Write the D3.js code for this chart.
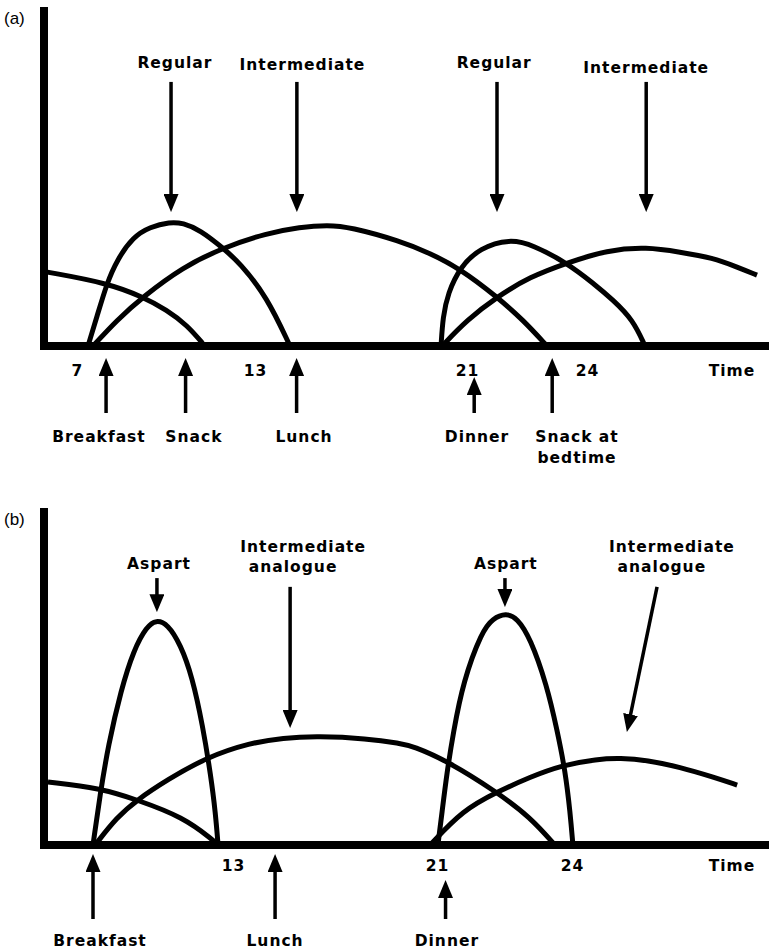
<!DOCTYPE html>
<html>
<head>
<meta charset="utf-8">
<script src="https://cdn.jsdelivr.net/npm/d3@7"></script>
<style>
body { margin: 0; background: #fff; }
svg text { font-family: "DejaVu Sans", "Liberation Sans", Arial, sans-serif; fill: #000; }
.lbl { font-weight: bold; font-size: 15.5px; letter-spacing: 1px; }
.tag { font-family: "Liberation Sans", Arial, sans-serif !important; font-size: 17px; }
</style>
</head>
<body>
<svg id="chart"></svg>
<script>
// ---------- panel (a): regular + intermediate ----------
// points are [hour, relative insulin effect 0-100]
const ticksA = [7, 13, 21, 24];
const residualA = [[6.0, 21.8], [8.01, 18.6], [9.22, 14.5], [10.03, 10.6], [10.71, 6.2], [11.31, 0]];
const regularBreakfastA = [[7.37, 0], [7.67, 8.6], [8.01, 18.6], [8.35, 25.4], [8.89, 32.2], [9.46, 35.1], [10.13, 36.6],
    [10.57, 36.3], [11.15, 34.2], [11.92, 28.9], [12.49, 24.5], [13.45, 14.5], [14.32, 0]];
const intermediateBreakfastA = [[7.54, 0], [8.35, 7.7], [9.22, 14.5], [10.57, 23.3], [11.89, 28.9], [13.45, 33.3], [14.7, 35.1],
    [15.75, 35.7], [16.58, 35.1], [18.47, 31.0], [19.6, 27.4], [20.74, 22.8], [21.75, 14.5], [22.4, 7.7], [23.0, 0]];
const regularDinnerA = [[20.02, 0], [20.09, 8.6], [20.28, 15.6], [20.74, 23.3], [21.32, 28.9], [22.07, 31.6], [22.65, 29.8],
    [23.5, 24.5], [24.15, 18.6], [24.65, 13.6], [25.15, 7.7], [25.45, 0]];
const intermediateDinnerA = [[20.06, 0], [21.0, 7.7], [21.75, 14.5], [22.57, 20.4], [23.5, 24.5], [24.5, 28.3], [25.5, 29.2],
    [26.32, 27.7], [27.15, 26.0], [27.75, 23.3], [28.25, 20.9]];
const insulinsA = [
    { label: ['Regular'], labelT: 10.3, labelV: 82.0, t0: 10.17, v0: 77.9, t1: 10.17, v1: 39.5 },
    { label: ['Intermediate'], labelT: 14.79, labelV: 81.4, t0: 14.58, v0: 77.9, t1: 14.58, v1: 39.5 },
    { label: ['Regular'], labelT: 21.68, labelV: 82.0, t0: 21.75, v0: 77.9, t1: 21.75, v1: 39.5 },
    { label: ['Intermediate'], labelT: 25.48, labelV: 80.5, t0: 25.48, v0: 77.9, t1: 25.48, v1: 39.5 }
];
const mealsA = [
    { name: ['Breakfast'], t: 7.98, labelT: 7.74 },
    { name: ['Snack'], t: 10.66, labelT: 10.94 },
    { name: ['Lunch'], t: 14.57, labelT: 14.85 },
    { name: ['Dinner'], t: 21.18, labelT: 21.25 },
    { name: ['Snack at', 'bedtime'], t: 23.13, labelT: 23.75 }
];

// ---------- panel (b): aspart + intermediate analogue ----------
const ticksB = [13, 21, 24];
const residualB = [[5.07, 18.7], [7.3, 16.9], [8.89, 13.4], [10.86, 8.3], [12.14, 1.5], [12.36, 0]];
const aspartBreakfastB = [[7.0, 0], [7.3, 14.8], [7.65, 29.5], [8.2, 46], [8.75, 58], [9.3, 64.8], [9.7, 66.8], [10.2, 65.6],
    [10.75, 59.5], [11.25, 50], [11.7, 35.5], [12.05, 20.5], [12.25, 9.5], [12.36, 0]];
const intermediateBreakfastB = [[7.09, 0], [8.03, 8.3], [8.89, 13.4], [10.17, 19.3], [11.89, 26.1], [13.67, 30.3], [14.96, 31.8],
    [16.33, 32.3], [18.25, 31.6], [19.55, 30.2], [20.06, 29.3], [21.22, 25.0], [22.33, 15.7], [23.07, 8.3], [23.62, 0]];
const aspartDinnerB = [[21.02, 0], [21.11, 9.5], [21.22, 21.4], [21.36, 33.2], [21.58, 48.5], [22.0, 63.5], [22.24, 67.2],
    [22.53, 68.8], [22.78, 67.4], [23.07, 61.5], [23.44, 47.5], [23.67, 34.0], [23.85, 22.0], [23.96, 9.5], [24.02, 0]];
const intermediateDinnerB = [[20.73, 0], [21.58, 10.4], [22.33, 15.7], [23.07, 20.2], [23.78, 23.7], [24.56, 25.5], [25.07, 25.8],
    [25.67, 25.2], [26.4, 23.1], [27.13, 20.2], [27.67, 17.8]];
const insulinsB = [
    { label: ['Aspart'], labelT: 9.83, labelV: 82.0, t0: 9.74, v0: 79.2, t1: 9.74, v1: 69.1 },
    { label: ['Intermediate', 'analogue'], labelT: 15.75, labelV: 86.9, t0: 15.24, v0: 76.6, t1: 15.24, v1: 34.7 },
    { label: ['Aspart'], labelT: 22.53, labelV: 82.0, t0: 22.51, v0: 79.2, t1: 22.51, v1: 70.6 },
    { label: ['Intermediate', 'analogue'], labelT: 26.22, labelV: 86.9, t0: 25.89, v0: 76.6, t1: 25.22, v1: 33.5 }
];
const mealsB = [
    { name: ['Breakfast'], t: 7.0, labelT: 7.3 },
    { name: ['Lunch'], t: 14.65, labelT: 14.65 },
    { name: ['Dinner'], t: 21.19, labelT: 21.22 }
];

const svg = d3.select('#chart')
    .attr('width', 769)
    .attr('height', 950);

// arrow head, tip sits 10px past the end of the shaft
svg.append('defs').append('marker')
    .attr('id', 'head')
    .attr('viewBox', '0 0 18 15')
    .attr('refX', 8)
    .attr('refY', 7.5)
    .attr('markerWidth', 18)
    .attr('markerHeight', 15)
    .attr('markerUnits', 'userSpaceOnUse')
    .attr('orient', 'auto')
    .append('path')
    .attr('d', 'M0,0 L18,7.5 L0,15 Z')
    .attr('fill', '#000');

function arrow(g, x0, y0, x1, y1) {
    const len = Math.hypot(x1 - x0, y1 - y0);
    const k = (len - 10) / len;
    g.append('line')
        .attr('x1', x0).attr('y1', y0)
        .attr('x2', x0 + (x1 - x0) * k).attr('y2', y0 + (y1 - y0) * k)
        .attr('stroke', '#000')
        .attr('stroke-width', 3.5)
        .attr('marker-end', 'url(#head)');
}

class Panel {
    constructor(_config, _data) {
        this.config = _config;
        this.data = _data;
        this.initVis();
    }

    initVis() {
        let vis = this;

        // schematic time axis: piecewise linear between the labelled hours
        vis.xScale = d3.scaleLinear()
            .domain(vis.config.hourStops)
            .range(vis.config.pxStops);

        vis.yScale = d3.scaleLinear()
            .domain([0, 100])
            .range([vis.config.axisY, vis.config.topY]);

        vis.g = svg.append('g');

        vis.renderVis();
    }

    renderVis() {
        let vis = this;
        const c = vis.config;

        const line = d3.line()
            .x(d => vis.xScale(d[0]))
            .y(d => vis.yScale(d[1]))
            .curve(d3.curveBasis);

        vis.g.selectAll('.curve')
            .data(vis.data.curves)
            .join('path')
            .attr('class', 'curve')
            .attr('d', line)
            .attr('fill', 'none')
            .attr('stroke', '#000')
            .attr('stroke-width', 5)
            .attr('stroke-linejoin', 'round');

        // axes
        vis.g.append('line')
            .attr('x1', c.axisX - 4).attr('x2', 769)
            .attr('y1', c.axisY).attr('y2', c.axisY)
            .attr('stroke', '#000').attr('stroke-width', 8);
        vis.g.append('line')
            .attr('x1', c.axisX).attr('x2', c.axisX)
            .attr('y1', c.topY).attr('y2', c.axisY + 4)
            .attr('stroke', '#000').attr('stroke-width', 8);

        const xAxis = d3.axisBottom(vis.xScale)
            .tickValues(vis.data.ticks)
            .tickFormat(d3.format('d'))
            .tickSize(0)
            .tickPadding(c.tickPad);

        vis.g.append('g')
            .attr('transform', `translate(0,${c.axisY})`)
            .call(xAxis)
            .call(g => g.select('.domain').remove())
            .selectAll('text')
            .attr('class', 'lbl');

        vis.g.append('text')
            .attr('class', 'lbl')
            .attr('x', 732)
            .attr('y', c.axisY + c.tickPad)
            .attr('dy', '0.71em')
            .attr('text-anchor', 'middle')
            .text('Time');

        vis.g.append('text')
            .attr('class', 'tag')
            .attr('x', 4)
            .attr('y', c.topY + 17)
            .text(c.tag);

        // insulin labels with arrows pointing at the curves
        vis.data.insulins.forEach(d => {
            arrow(vis.g, vis.xScale(d.t0), vis.yScale(d.v0), vis.xScale(d.t1), vis.yScale(d.v1));
            const t = vis.g.append('text')
                .attr('class', 'lbl')
                .attr('text-anchor', 'middle')
                .attr('y', vis.yScale(d.labelV));
            d.label.forEach((s, i) => {
                t.append('tspan')
                    .attr('x', vis.xScale(d.labelT) - i * 10)
                    .attr('dy', i === 0 ? 0 : 20)
                    .text(s);
            });
        });

        // meals below the time axis
        vis.data.meals.forEach(d => {
            const x = vis.xScale(d.t);
            const nearTick = vis.data.ticks.some(k => Math.abs(vis.xScale(k) - x) < 15);
            arrow(vis.g, x, c.axisY + c.mealTail, x, c.axisY + (nearTick ? c.mealTipShort : c.mealTip));
            const t = vis.g.append('text')
                .attr('class', 'lbl')
                .attr('text-anchor', 'middle')
                .attr('y', c.axisY + c.mealLabel);
            d.name.forEach((s, i) => {
                t.append('tspan')
                    .attr('x', vis.xScale(d.labelT))
                    .attr('dy', i === 0 ? 0 : 21)
                    .text(s);
            });
        });
    }
}

new Panel({
    tag: '(a)', axisX: 44, axisY: 346, topY: 7,
    hourStops: [7, 13, 21, 24], pxStops: [77, 255, 467, 587],
    tickPad: 19, mealTip: 12, mealTipShort: 31, mealTail: 67, mealLabel: 96
}, {
    ticks: ticksA,
    curves: [residualA, regularBreakfastA, intermediateBreakfastA, regularDinnerA, intermediateDinnerA],
    insulins: insulinsA,
    meals: mealsA
});

new Panel({
    tag: '(b)', axisX: 44, axisY: 845, topY: 508,
    hourStops: [7, 13, 21, 24], pxStops: [93, 233, 437, 572],
    tickPad: 15, mealTip: 9, mealTipShort: 35, mealTail: 74, mealLabel: 101
}, {
    ticks: ticksB,
    curves: [residualB, aspartBreakfastB, intermediateBreakfastB, aspartDinnerB, intermediateDinnerB],
    insulins: insulinsB,
    meals: mealsB
});
</script>
</body>
</html>
